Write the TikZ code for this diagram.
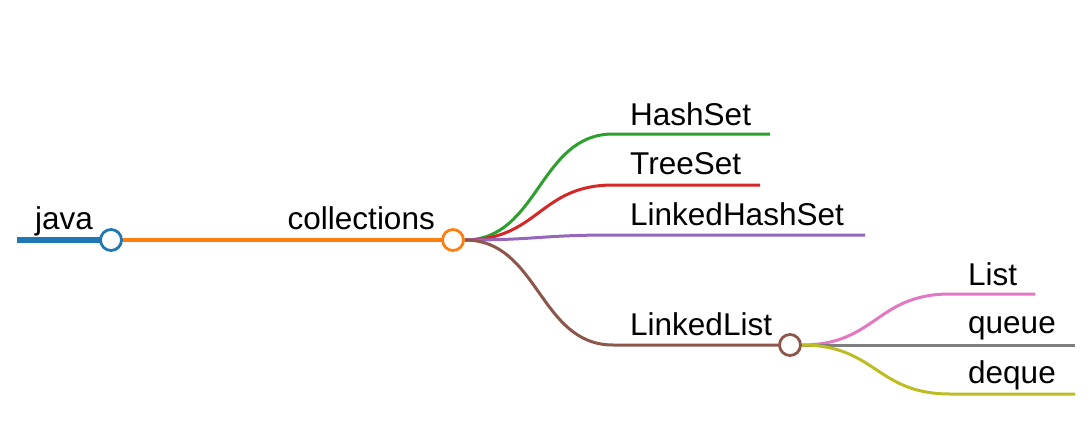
\documentclass[tikz,border=0pt]{standalone}
\usepackage{fontspec}
\setmainfont{Liberation Sans}
\usetikzlibrary{backgrounds}
\definecolor{cblue}{HTML}{1F77B4}
\definecolor{corange}{HTML}{FF7F0E}
\definecolor{cgreen}{HTML}{2CA02C}
\definecolor{cred}{HTML}{D62728}
\definecolor{cpurple}{HTML}{9467BD}
\definecolor{cbrown}{HTML}{8C564B}
\definecolor{cpink}{HTML}{E377C2}
\definecolor{cgray}{HTML}{7F7F7F}
\definecolor{colive}{HTML}{BCBD22}
\begin{document}
\begin{tikzpicture}[x=1pt,y=-1pt,
  lbl/.style={anchor=base west, inner sep=0pt, font=\fontsize{31.5}{38}\selectfont},
  knob/.style={circle, draw=#1, fill=white, line width=2.8pt, minimum size=21pt, inner sep=0pt},
  edgeline/.style={line width=3pt, draw=#1, line cap=butt}]
\useasboundingbox (0,0) rectangle (1088,431);
% knobs
\coordinate (j0) at (17,240);
\node[knob=cblue] (jc) at (111,240) {};
\node[knob=corange] (cc) at (453,240) {};
\node[knob=cbrown] (lc) at (790,345) {};
% leaf points
\coordinate (hs0) at (613,134); \coordinate (hs1) at (770,134);
\coordinate (tr0) at (613,185); \coordinate (tr1) at (760,185);
\coordinate (lh0) at (613,235); \coordinate (lh1) at (865,235);
\coordinate (ll0) at (613,345);
\coordinate (li0) at (950,294); \coordinate (li1) at (1035,294);
\coordinate (qu0) at (950,345); \coordinate (qu1) at (1075,345);
\coordinate (de0) at (950,394); \coordinate (de1) at (1075,394);
% labels
\node[lbl] (tjava) at (35,229) {java};
\node[lbl, anchor=base east] (tcoll) at (435,229) {collections};
\node[lbl] (ths) at (630,125) {HashSet};
\node[lbl] (ttr) at (630,174) {TreeSet};
\node[lbl] (tlh) at (630,225) {LinkedHashSet};
\node[lbl] (tll) at (630,335) {LinkedList};
\node[lbl] (tli) at (968,285) {List};
\node[lbl] (tqu) at (968,333) {queue};
\node[lbl] (tde) at (968,383) {deque};
\begin{pgfonlayer}{background}
\draw[line width=6.5pt, cblue] (j0) -- (jc.center);
\draw[line width=3.5pt, corange] (jc.center) -- (cc.center);
\draw[edgeline=cgreen] (cc.east) .. controls +(74,0) and +(-74,0) .. (hs0) -- (hs1);
\draw[edgeline=cred] (cc.east) .. controls +(74,0) and +(-74,0) .. (tr0) -- (tr1);
\draw[edgeline=cpurple] (cc.east) .. controls +(74,0) and +(-74,0) .. (lh0) -- (lh1);
\draw[edgeline=cbrown] (cc.east) .. controls +(74,0) and +(-74,0) .. (ll0) -- (lc.center);
\draw[edgeline=cpink] (lc.east) .. controls +(74,0) and +(-74,0) .. (li0) -- (li1);
\draw[edgeline=cgray] (lc.east) -- (qu0) -- (qu1);
\draw[edgeline=colive] (lc.east) .. controls +(74,0) and +(-74,0) .. (de0) -- (de1);
\end{pgfonlayer}
\end{tikzpicture}
\end{document}
